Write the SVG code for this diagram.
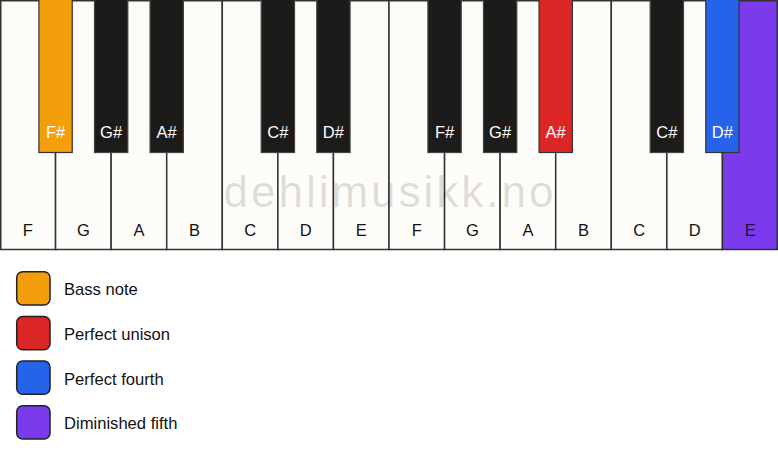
<svg xmlns="http://www.w3.org/2000/svg" width="778" height="461" viewBox="0 0 778 461">
<style>
.w{fill:#fdfcf8;stroke:#333;stroke-width:1.5}
.b{fill:#1c1b1a;stroke:#444;stroke-width:1.2}
.wl{font-family:"Liberation Sans",Arial,sans-serif;font-size:16.5px;fill:#111;text-anchor:middle}
.bl{font-family:"Liberation Sans",Arial,sans-serif;font-size:16.5px;fill:#fff;text-anchor:middle}
.lg{stroke:#222;stroke-width:1.5}
.lt{font-family:"Liberation Sans",Arial,sans-serif;font-size:16.6px;fill:#111}
.wm{font-family:"Liberation Sans",Arial,sans-serif;font-size:44px;fill:#000;fill-opacity:0.13;letter-spacing:3px;text-anchor:middle}
</style>
<rect x="0" y="0" width="778" height="461" fill="#ffffff"/>
<g id="white-keys">
<g id="w-F1"><rect class="w" x="0.75" y="0.75" width="54.82" height="248.75"/><text class="wl" x="27.8" y="236">F</text></g>
<g id="w-G1"><rect class="w" x="55.57" y="0.75" width="55.57" height="248.75"/><text class="wl" x="83.4" y="236">G</text></g>
<g id="w-A1"><rect class="w" x="111.14" y="0.75" width="55.57" height="248.75"/><text class="wl" x="138.9" y="236">A</text></g>
<g id="w-B1"><rect class="w" x="166.71" y="0.75" width="55.57" height="248.75"/><text class="wl" x="194.5" y="236">B</text></g>
<g id="w-C1"><rect class="w" x="222.29" y="0.75" width="55.57" height="248.75"/><text class="wl" x="250.1" y="236">C</text></g>
<g id="w-D1"><rect class="w" x="277.86" y="0.75" width="55.57" height="248.75"/><text class="wl" x="305.6" y="236">D</text></g>
<g id="w-E1"><rect class="w" x="333.43" y="0.75" width="55.57" height="248.75"/><text class="wl" x="361.2" y="236">E</text></g>
<g id="w-F2"><rect class="w" x="389" y="0.75" width="55.57" height="248.75"/><text class="wl" x="416.8" y="236">F</text></g>
<g id="w-G2"><rect class="w" x="444.57" y="0.75" width="55.57" height="248.75"/><text class="wl" x="472.4" y="236">G</text></g>
<g id="w-A2"><rect class="w" x="500.14" y="0.75" width="55.57" height="248.75"/><text class="wl" x="527.9" y="236">A</text></g>
<g id="w-B2"><rect class="w" x="555.71" y="0.75" width="55.57" height="248.75"/><text class="wl" x="583.5" y="236">B</text></g>
<g id="w-C2"><rect class="w" x="611.29" y="0.75" width="55.57" height="248.75"/><text class="wl" x="639.1" y="236">C</text></g>
<g id="w-D2"><rect class="w" x="666.86" y="0.75" width="55.57" height="248.75"/><text class="wl" x="694.6" y="236">D</text></g>
<g id="w-E2"><rect class="w" x="722.43" y="0.75" width="54.82" height="248.75" style="fill:#7c3aed"/><text class="wl" x="750.2" y="236" style="fill:#1a1033">E</text></g>
</g>
<text class="wm" x="390" y="207">dehlimusikk.no</text>
<g id="black-keys">
<g id="b-Fs1"><rect class="b" x="38.9" y="-1" width="33.33" height="153.5" style="fill:#f59e0b;stroke:#333"/><text class="bl" x="55.6" y="138">F#</text></g>
<g id="b-Gs1"><rect class="b" x="94.48" y="-1" width="33.33" height="153.5"/><text class="bl" x="111.1" y="138">G#</text></g>
<g id="b-As1"><rect class="b" x="150.05" y="-1" width="33.33" height="153.5"/><text class="bl" x="166.7" y="138">A#</text></g>
<g id="b-Cs1"><rect class="b" x="261.19" y="-1" width="33.33" height="153.5"/><text class="bl" x="277.9" y="138">C#</text></g>
<g id="b-Ds1"><rect class="b" x="316.76" y="-1" width="33.33" height="153.5"/><text class="bl" x="333.4" y="138">D#</text></g>
<g id="b-Fs2"><rect class="b" x="427.9" y="-1" width="33.33" height="153.5"/><text class="bl" x="444.6" y="138">F#</text></g>
<g id="b-Gs2"><rect class="b" x="483.48" y="-1" width="33.33" height="153.5"/><text class="bl" x="500.1" y="138">G#</text></g>
<g id="b-As2"><rect class="b" x="539.05" y="-1" width="33.33" height="153.5" style="fill:#dc2626;stroke:#333"/><text class="bl" x="555.7" y="138">A#</text></g>
<g id="b-Cs2"><rect class="b" x="650.19" y="-1" width="33.33" height="153.5"/><text class="bl" x="666.9" y="138">C#</text></g>
<g id="b-Ds2"><rect class="b" x="705.76" y="-1" width="33.33" height="153.5" style="fill:#2563eb;stroke:#333"/><text class="bl" x="722.4" y="138">D#</text></g>
</g>
<g id="legend">
<g id="lg-bass"><rect class="lg" x="16.7" y="271.7" width="33.3" height="33.3" rx="6" fill="#f59e0b"/><text class="lt" x="64" y="295.3">Bass note</text></g>
<g id="lg-unison"><rect class="lg" x="16.7" y="316.4" width="33.3" height="33.3" rx="6" fill="#dc2626"/><text class="lt" x="64" y="340">Perfect unison</text></g>
<g id="lg-fourth"><rect class="lg" x="16.7" y="361" width="33.3" height="33.3" rx="6" fill="#2563eb"/><text class="lt" x="64" y="384.6">Perfect fourth</text></g>
<g id="lg-dim5"><rect class="lg" x="16.7" y="405.7" width="33.3" height="33.3" rx="6" fill="#7c3aed"/><text class="lt" x="64" y="429.3">Diminished fifth</text></g>
</g>
</svg>
